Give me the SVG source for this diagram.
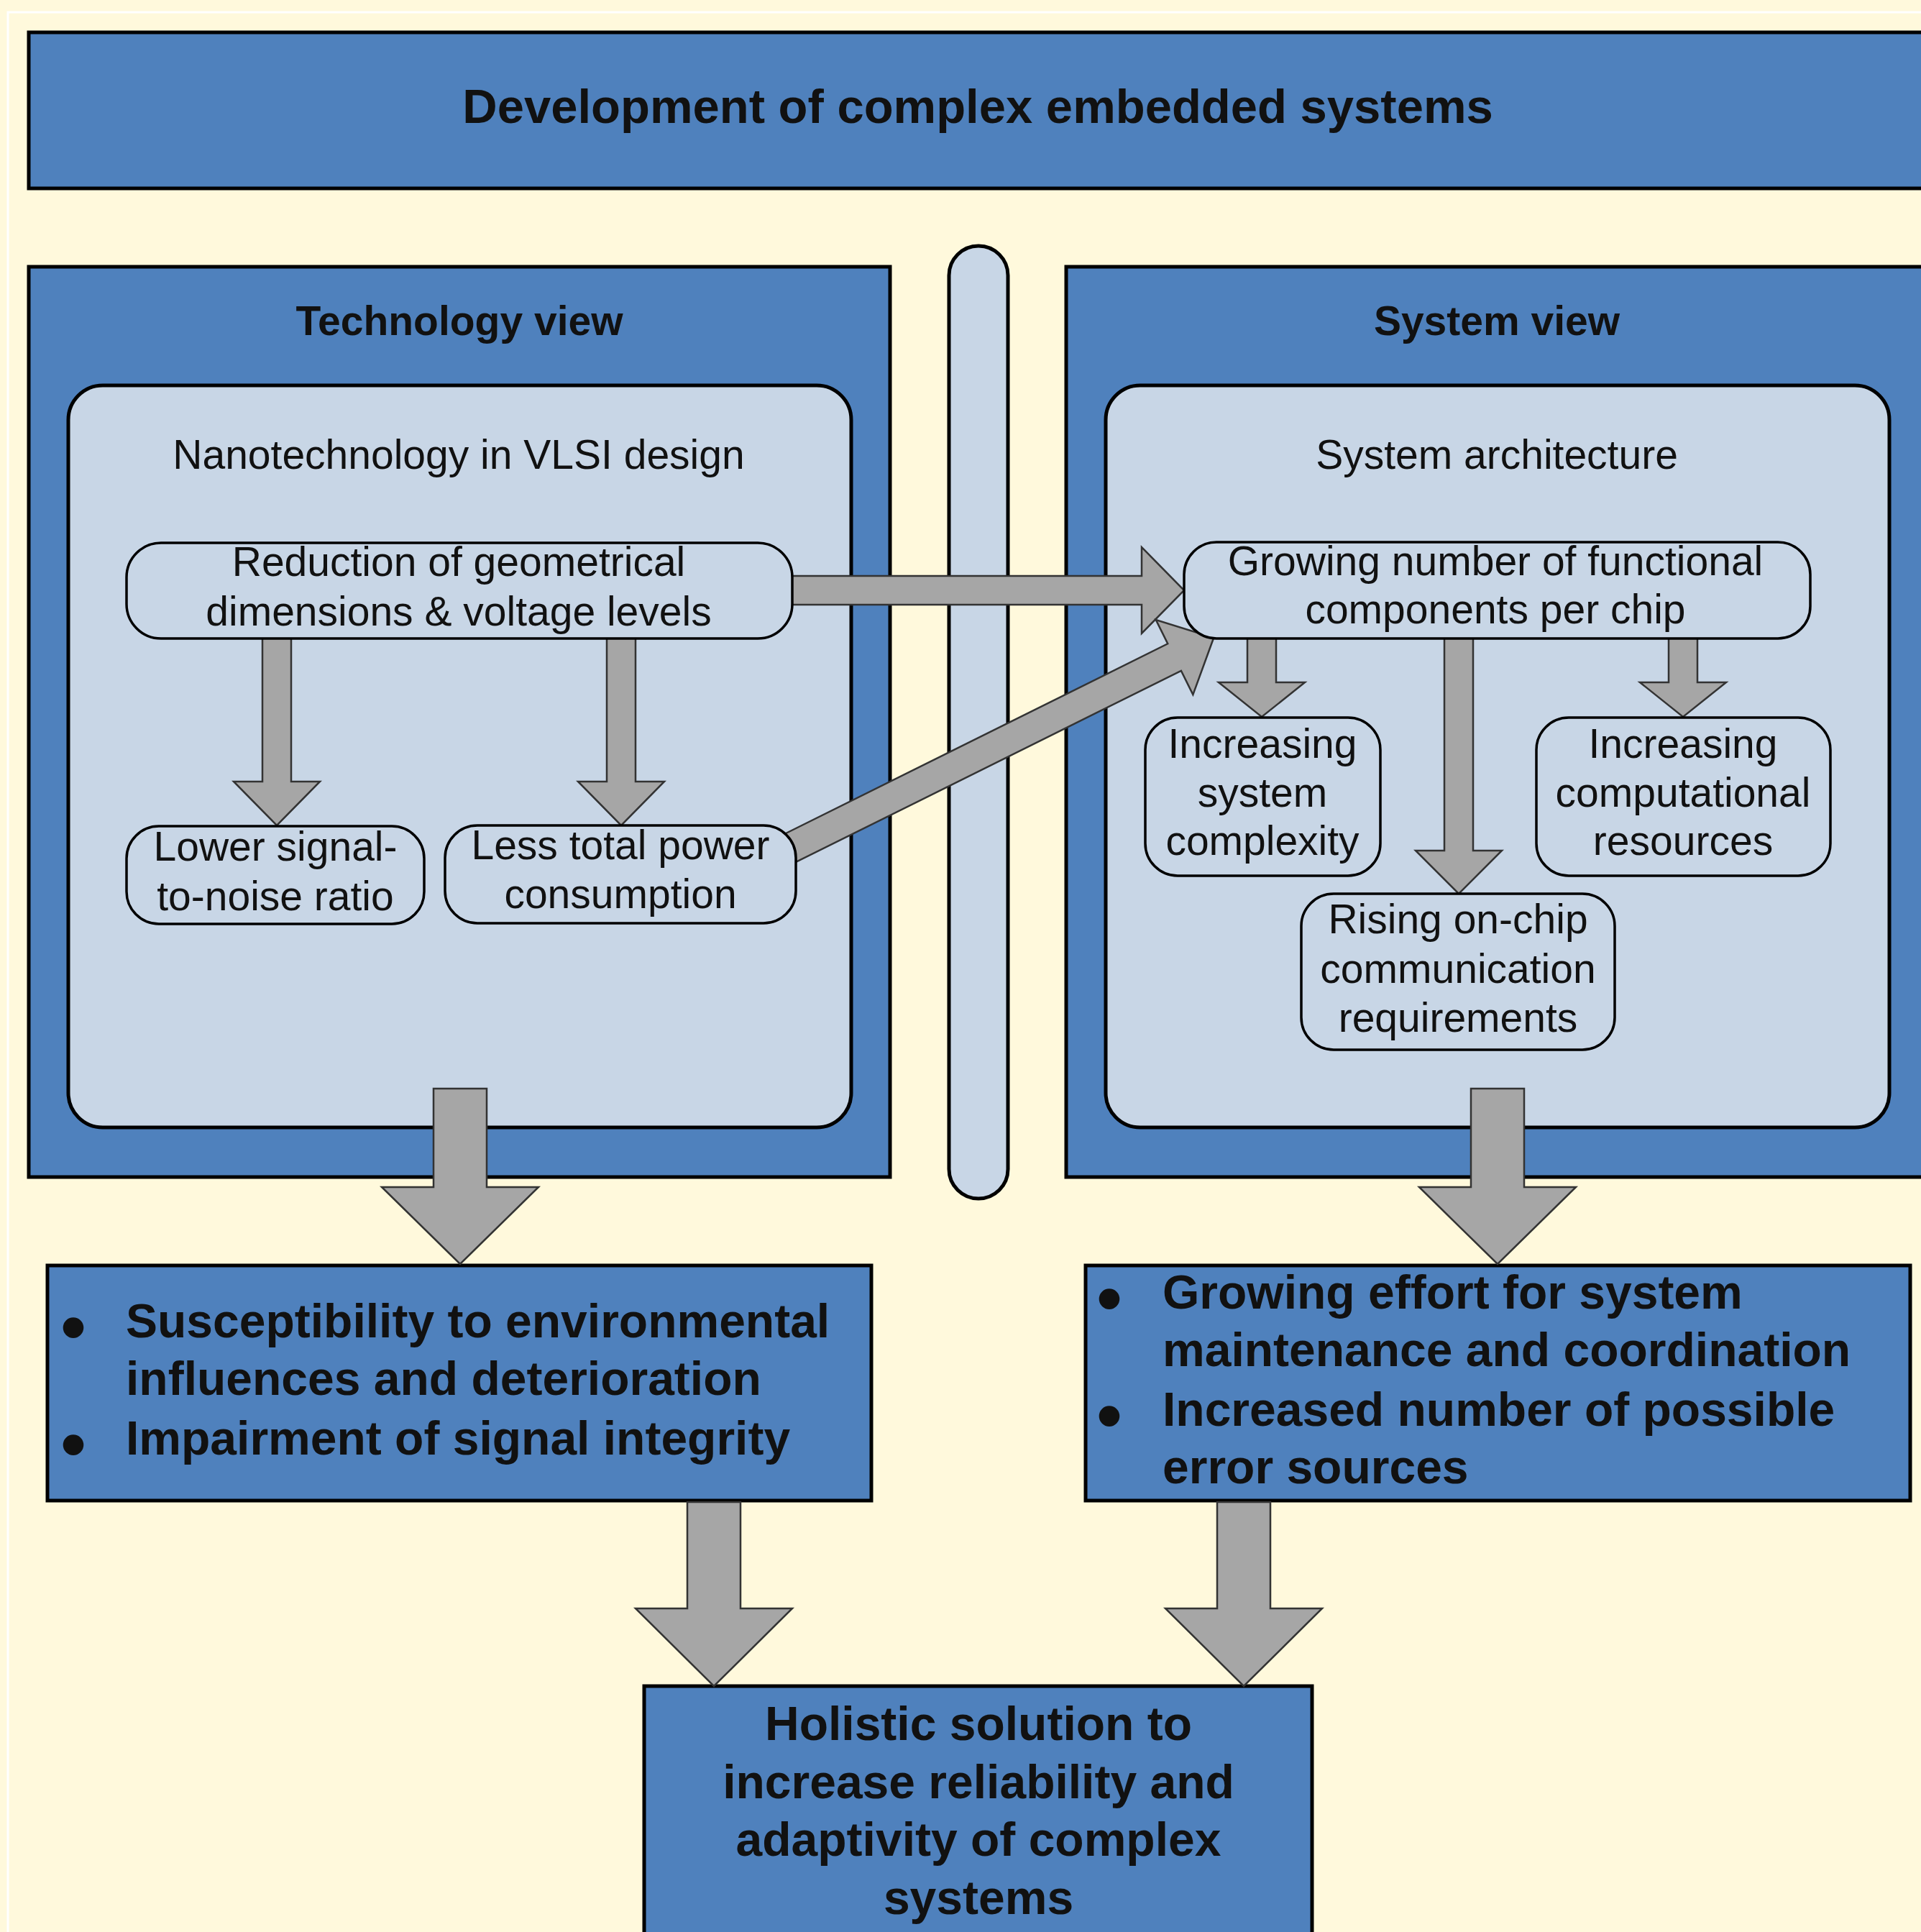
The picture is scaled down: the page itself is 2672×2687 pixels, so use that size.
<svg xmlns="http://www.w3.org/2000/svg" width="2672" height="2687" viewBox="0 0 2672 2687">
<style>
.bg{fill:#FFF9DC}
.blue{fill:#4F81BD;stroke:#000;stroke-width:5}
.light{fill:#C8D6E6;stroke:#000;stroke-width:5}
.node{fill:#C8D6E6;stroke:#000;stroke-width:3.5}
.arrow{fill:#A6A6A6;stroke:#333;stroke-width:2.5;stroke-linejoin:miter}
.t{font-family:"Liberation Sans",Arial,sans-serif;fill:#111}
.r{font-size:57px;text-anchor:middle}
.h{font-size:57px;font-weight:bold;text-anchor:middle}
.b{font-size:66px;font-weight:bold}
.bc{font-size:66px;font-weight:bold;text-anchor:middle}
.ttl{font-size:67px;font-weight:bold;text-anchor:middle}
.bul{font-size:100px;font-weight:bold;text-anchor:middle}
</style>
<rect class="bg" x="0" y="0" width="2672" height="2687"/>
<rect x="11" y="17" width="2700" height="2700" fill="none" stroke="#FFFFFF" stroke-width="3"/>

<g id="top-box">
<rect class="blue" x="40" y="45" width="2700" height="217"/>
<text class="t ttl" x="1360" y="171">Development of complex embedded systems</text>
</g>

<g id="technology-view">
<rect class="blue" x="40" y="371" width="1198" height="1266"/>
<text class="t h" x="639" y="466">Technology view</text>
</g>

<g id="system-view">
<rect class="blue" x="1483" y="371" width="1300" height="1266"/>
<text class="t h" x="2082" y="466">System view</text>
</g>

<g id="nanotech">
<rect class="light" x="95" y="536" width="1089" height="1032" rx="48" ry="48"/>
<text class="t r" x="638" y="652">Nanotechnology in VLSI design</text>
</g>

<g id="system-architecture">
<rect class="light" x="1538" y="536" width="1090" height="1032" rx="48" ry="48"/>
<text class="t r" x="2082" y="652">System architecture</text>
</g>

<g id="pillar">
<rect class="light" x="1320" y="342" width="82" height="1325" rx="41" ry="41" stroke-width="4"/>
</g>

<g id="left-effects">
<rect class="blue" x="66" y="1760" width="1146" height="327"/>
<text class="t bul" x="102" y="1880">•</text>
<text class="t b" x="175" y="1860">Susceptibility to environmental</text>
<text class="t b" x="175" y="1940">influences and deterioration</text>
<text class="t bul" x="102" y="2043">•</text>
<text class="t b" x="175" y="2023">Impairment of signal integrity</text>
</g>

<g id="right-effects">
<rect class="blue" x="1510" y="1760" width="1147" height="327"/>
<text class="t bul" x="1543" y="1840">•</text>
<text class="t b" x="1617" y="1820">Growing effort for system</text>
<text class="t b" x="1617" y="1900">maintenance and coordination</text>
<text class="t bul" x="1543" y="2003">•</text>
<text class="t b" x="1617" y="1983">Increased number of possible</text>
<text class="t b" x="1617" y="2063">error sources</text>
</g>

<g id="holistic">
<rect class="blue" x="896" y="2345" width="929" height="420"/>
<text class="t bc" x="1361" y="2420">Holistic solution to</text>
<text class="t bc" x="1361" y="2501">increase reliability and</text>
<text class="t bc" x="1361" y="2581">adaptivity of complex</text>
<text class="t bc" x="1361" y="2662">systems</text>
</g>

<g id="connectors">
<polygon class="arrow" points="1095,801 1588,801 1588,761 1647,821 1588,881 1588,841 1095,841"/>
<polygon class="arrow" transform="translate(1106,1176) rotate(-26.4)" points="-8,-21 589,-21 589,-58 650,0 589,58 589,21 -8,21"/>
<polygon class="arrow" points="365,885 405,885 405,1087 445,1087 385,1148 325,1087 365,1087"/>
<polygon class="arrow" points="844,885 884,885 884,1087 924,1087 864,1148 804,1087 844,1087"/>
<polygon class="arrow" points="1735,884 1775,884 1775,949 1815,949 1755,997 1695,949 1735,949"/>
<polygon class="arrow" points="2009,884 2049,884 2049,1183 2089,1183 2029,1243 1969,1183 2009,1183"/>
<polygon class="arrow" points="2321,884 2361,884 2361,949 2401,949 2341,997 2281,949 2321,949"/>
<polygon class="arrow" points="603,1514 677,1514 677,1651 749,1651 640,1758 531,1651 603,1651"/>
<polygon class="arrow" points="2046,1514 2120,1514 2120,1651 2192,1651 2083,1758 1974,1651 2046,1651"/>
<polygon class="arrow" points="956,2089 1030,2089 1030,2237 1102,2237 993,2345 884,2237 956,2237"/>
<polygon class="arrow" points="1693,2089 1767,2089 1767,2237 1839,2237 1730,2345 1621,2237 1693,2237"/>
</g>

<g id="reduction">
<rect class="node" x="176" y="755" width="926" height="133" rx="48" ry="48"/>
<text class="t r" x="638" y="801">Reduction of geometrical</text>
<text class="t r" x="638" y="870">dimensions &amp; voltage levels</text>
</g>

<g id="lower-snr">
<rect class="node" x="176" y="1149" width="414" height="136" rx="45" ry="45"/>
<text class="t r" x="383" y="1197">Lower signal-</text>
<text class="t r" x="383" y="1266">to-noise ratio</text>
</g>

<g id="less-power">
<rect class="node" x="619" y="1148" width="488" height="136" rx="45" ry="45"/>
<text class="t r" x="863" y="1195">Less total power</text>
<text class="t r" x="863" y="1263">consumption</text>
</g>

<g id="growing">
<rect class="node" x="1647" y="754" width="871" height="134" rx="45" ry="45"/>
<text class="t r" x="2080" y="800">Growing number of functional</text>
<text class="t r" x="2080" y="867">components per chip</text>
</g>

<g id="sys-complexity">
<rect class="node" x="1593" y="998" width="327" height="220" rx="45" ry="45"/>
<text class="t r" x="1756" y="1054">Increasing</text>
<text class="t r" x="1756" y="1122">system</text>
<text class="t r" x="1756" y="1189">complexity</text>
</g>

<g id="comp-resources">
<rect class="node" x="2137" y="998" width="409" height="220" rx="45" ry="45"/>
<text class="t r" x="2341" y="1054">Increasing</text>
<text class="t r" x="2341" y="1122">computational</text>
<text class="t r" x="2341" y="1189">resources</text>
</g>

<g id="on-chip-comm">
<rect class="node" x="1810" y="1243" width="436" height="217" rx="45" ry="45"/>
<text class="t r" x="2028" y="1298">Rising on-chip</text>
<text class="t r" x="2028" y="1367">communication</text>
<text class="t r" x="2028" y="1435">requirements</text>
</g>
</svg>
